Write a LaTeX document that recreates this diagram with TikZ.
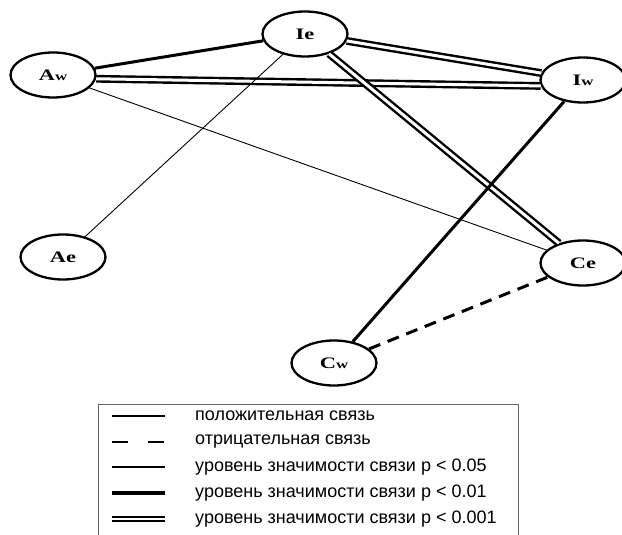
\documentclass[tikz,border=0pt]{standalone}
\usepackage{fontspec}
\setmainfont{Liberation Serif}
\newfontfamily\legendfont{Liberation Sans}
\newfontfamily\factorfont[FakeStretch=1.4]{Liberation Serif}
\usetikzlibrary{shapes.geometric}

\begin{document}
\begin{tikzpicture}[x=1pt,y=-1pt,
    factor/.style={draw, ellipse, line width=2.3pt, minimum width=85pt, minimum height=45pt, inner sep=0pt, font=\factorfont\bfseries\fontsize{16}{16}\selectfont},
    weak/.style={line width=0.9pt},
    strong/.style={line width=3pt},
    strongest/.style={double, double distance=3pt, line width=2.4pt},
    negative/.style={dash pattern=on 12pt off 8pt},
    legendtext/.style={anchor=west, inner sep=0pt, font=\legendfont\fontsize{18}{18}\selectfont}]
    \useasboundingbox (0,0) rectangle (622,535);

    % factors
    \node[factor] (Ie) at (305,34) {Ie};
    \node[factor] (Aw) at (53,75) {A{\fontsize{12}{12}\selectfont w}};
    \node[factor] (Iw) at (583,80) {I{\fontsize{12}{12}\selectfont w}};
    \node[factor] (Ae) at (63,257) {Ae};
    \node[factor] (Ce) at (583,263) {Ce};
    \node[factor] (Cw) at (334,363) {C{\fontsize{12}{12}\selectfont w}};

    % links
    \draw[strong] (Aw) -- (Ie);
    \draw[strongest] (Ie) -- (Iw);
    \draw[strongest] (Aw.-5) -- (Iw.188);
    \draw[strongest] (Ie) -- (Ce);
    \draw[weak] (Ie) -- (Ae);
    \draw[weak] (Aw) -- (Ce);
    \draw[strong] (Iw) -- (Cw);
    \draw[strong, negative] (Cw) -- (Ce);

    % legend
    \draw[black!60, line width=0.8pt] (98,535) -- (98,404) -- (518,404) -- (518,535);

    \coordinate (k1a) at (112,416); \coordinate (k1b) at (165,416);
    \draw[line width=2pt] (k1a) -- (k1b);
    \node[legendtext] (t1) at (195,416) {положительная связь};

    \coordinate (k2a) at (112,442); \coordinate (k2b) at (165,442);
    \draw[line width=2pt, dash pattern=on 16pt off 20pt] (k2a) -- (k2b);
    \node[legendtext] (t2) at (195,442) {отрицательная связь};

    \coordinate (k3a) at (112,467); \coordinate (k3b) at (165,467);
    \draw[line width=1.4pt] (k3a) -- (k3b);
    \node[legendtext] (t3) at (195,467) {уровень значимости связи p < 0.05};

    \coordinate (k4a) at (112,493); \coordinate (k4b) at (165,493);
    \draw[line width=4.5pt] (k4a) -- (k4b);
    \node[legendtext] (t4) at (195,493) {уровень значимости связи p < 0.01};

    \coordinate (k5a) at (112,519); \coordinate (k5b) at (165,519);
    \draw[double, double distance=2pt, line width=1.6pt] (k5a) -- (k5b);
    \node[legendtext] (t5) at (195,519) {уровень значимости связи p < 0.001};
\end{tikzpicture}
\end{document}
